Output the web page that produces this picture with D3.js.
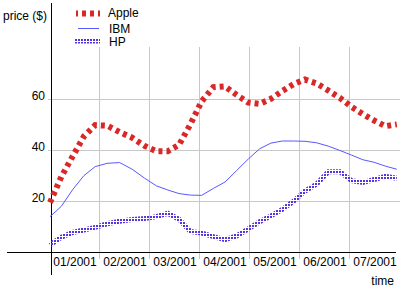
<!DOCTYPE html>
<html>
<head>
<meta charset="utf-8">
<script src="https://cdn.jsdelivr.net/npm/d3@7.9.0/dist/d3.min.js"></script>
<style>
  body { margin: 0; background: #fff; }
  svg { display: block; font-family: "Liberation Sans", Arial, sans-serif; font-size: 12px; }
</style>
</head>
<body>
<svg id="chart" width="400" height="300"></svg>
<script>
// Weekly dates (Mondays)
const dates = [
  "2001-01-01", "2001-01-08", "2001-01-15", "2001-01-22", "2001-01-29",
  "2001-02-05", "2001-02-12", "2001-02-19", "2001-02-26",
  "2001-03-05", "2001-03-12", "2001-03-19", "2001-03-26",
  "2001-04-02", "2001-04-09", "2001-04-16", "2001-04-23", "2001-04-30",
  "2001-05-07", "2001-05-14", "2001-05-21", "2001-05-28",
  "2001-06-04", "2001-06-11", "2001-06-18", "2001-06-25",
  "2001-07-02", "2001-07-09", "2001-07-16", "2001-07-23", "2001-07-30"
];

const apple = [
  19.5, 29.5, 37.5, 45.3, 49.7,
  49.5, 47, 44.8, 41.6,
  39.5, 39.5, 42, 50,
  59, 64.5, 64.8, 61.5, 58.5,
  58, 60, 63, 65.7,
  67.5, 66, 63.2, 60.3,
  56.8, 54, 51.5, 49.3, 50
];

const ibm = [
  14, 18, 24.5, 30, 33.5,
  34.8, 35.1, 32.5, 29,
  26, 24.4, 23, 22.4,
  22.3, 25, 27.5, 32, 36.5,
  40.5, 42.7, 43.5, 43.5,
  43.4, 42.8, 41.5, 39.8,
  38, 36.2, 35.2, 33.7, 32.5
];

const hp = [
  3, 6, 7.8, 8.8, 9.8,
  11.2, 12.2, 12.9, 13.3,
  14, 15.3, 13, 8.2,
  7.6, 6.2, 5, 6.5, 9.2,
  12, 14.3, 16.8, 20,
  24, 26.7, 31.5, 31.5,
  28, 27.3, 28.5, 29.7, 29
];

const monthLabels = ["01/2001", "02/2001", "03/2001", "04/2001", "05/2001", "06/2001", "07/2001"];
const yTicks = [20, 40, 60];
const seriesNames = ["Apple", "IBM", "HP"];

const svg = d3.select("#chart");
const parse = d3.timeParse("%Y-%m-%d");

// each month gets the same width on the axis
function monthPos(d) {
  const m = d.getMonth();
  const dim = new Date(d.getFullYear(), m + 1, 0).getDate();
  return m + (d.getDate() - 1) / dim;
}

const x = d3.scaleLinear().domain([0, 7]).range([50, 400]);
const y = d3.scaleLinear().domain([0, 80]).range([252.5, 47.5]);

// dotted fill for the HP line
const defs = svg.append("defs");
const pat = defs.append("pattern")
  .attr("id", "hpdots")
  .attr("patternUnits", "userSpaceOnUse")
  .attr("width", 3).attr("height", 3);
pat.append("rect").attr("width", 2).attr("height", 2).attr("fill", "#5533e0");

// grid
svg.append("g").selectAll("line")
  .data(d3.range(1, 7))
  .join("line")
  .attr("x1", (d) => Math.round(x(d)) - 0.5)
  .attr("x2", (d) => Math.round(x(d)) - 0.5)
  .attr("y1", 47).attr("y2", 259)
  .attr("stroke", "#c8c8c8");

svg.append("g").selectAll("line")
  .data(yTicks)
  .join("line")
  .attr("x1", 48).attr("x2", 400)
  .attr("y1", (d) => Math.round(y(d)) + 0.5)
  .attr("y2", (d) => Math.round(y(d)) + 0.5)
  .attr("stroke", "#c8c8c8");

// axes
svg.append("line")
  .attr("x1", 51.5).attr("x2", 51.5)
  .attr("y1", 3).attr("y2", 275)
  .attr("stroke", "#000");
svg.append("line")
  .attr("x1", 7).attr("x2", 396)
  .attr("y1", 252.5).attr("y2", 252.5)
  .attr("stroke", "#000");

// tick labels
svg.append("g").selectAll("text")
  .data(yTicks)
  .join("text")
  .attr("x", 45)
  .attr("y", (d) => y(d) + 1)
  .attr("text-anchor", "end")
  .text((d) => d);

svg.append("g").selectAll("text")
  .data(monthLabels)
  .join("text")
  .attr("x", (d, i) => x(i + 0.5))
  .attr("y", 266)
  .attr("text-anchor", "middle")
  .text((d) => d);

svg.append("text").attr("x", 3).attr("y", 19.5).text("price ($)");
svg.append("text").attr("x", 394).attr("y", 285).attr("text-anchor", "end").text("time");

// lines
const xs = dates.map((d) => monthPos(parse(d)));
const line = d3.line()
  .x((d, i) => x(xs[i]))
  .y((d) => y(d));

svg.append("path")
  .attr("d", line(ibm))
  .attr("fill", "none")
  .attr("stroke", "#5858ff")
  .attr("stroke-width", 1);

svg.append("path")
  .attr("d", line(hp))
  .attr("fill", "none")
  .attr("stroke", "url(#hpdots)")
  .attr("stroke-width", 5);

svg.append("path")
  .attr("d", line(apple))
  .attr("fill", "none")
  .attr("stroke", "#d82828")
  .attr("stroke-width", 6)
  .attr("stroke-dasharray", "4,4");

// legend
const legendY = [13.5, 28.5, 41];
const legendTextY = [16.5, 32.5, 46];
const lg = svg.append("g");
lg.append("line")
  .attr("x1", 76).attr("x2", 100).attr("y1", legendY[0]).attr("y2", legendY[0])
  .attr("stroke", "#d82828").attr("stroke-width", 6).attr("stroke-dasharray", "4,4")
  .attr("stroke-dashoffset", 2);
lg.append("line")
  .attr("x1", 78).attr("x2", 99).attr("y1", legendY[1]).attr("y2", legendY[1])
  .attr("stroke", "#5858ff").attr("stroke-width", 1);
lg.append("line")
  .attr("x1", 75).attr("x2", 100).attr("y1", legendY[2]).attr("y2", legendY[2])
  .attr("stroke", "url(#hpdots)").attr("stroke-width", 5);

lg.selectAll("text")
  .data(seriesNames)
  .join("text")
  .attr("x", (d, i) => (i === 0 ? 108 : 109))
  .attr("y", (d, i) => legendTextY[i])
  .text((d) => d);
</script>
</body>
</html>
